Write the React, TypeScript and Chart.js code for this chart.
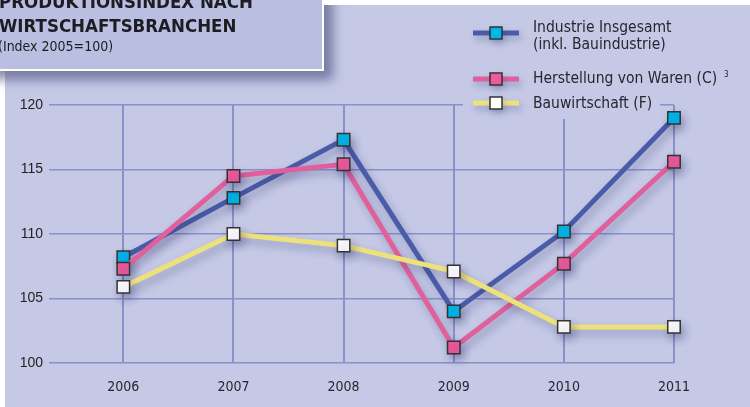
import React, { useEffect, useRef } from "react";
import { Chart, registerables } from "chart.js";

Chart.register(...registerables);

// ---- data ----
const YEARS = [2006, 2007, 2008, 2009, 2010, 2011];
const INDUSTRIE = [108.2, 112.8, 117.3, 104.0, 110.2, 119.0];
const WAREN = [107.3, 114.5, 115.4, 101.2, 107.7, 115.6];
const BAU = [105.9, 110.0, 109.1, 107.1, 102.8, 102.8];
const Y_TICKS = [100, 105, 110, 115, 120];

const TITLE_LINES = ["PRODUKTIONSINDEX NACH", "WIRTSCHAFTSBRANCHEN"];
const SUBTITLE = "(Index 2005=100)";
const LEGEND_INDUSTRIE = ["Industrie Insgesamt", "(inkl. Bauindustrie)"];
const LEGEND_WAREN = "Herstellung von Waren (C)";
const LEGEND_WAREN_NOTE = "3";
const LEGEND_BAU = "Bauwirtschaft (F)";

// ---- styles ----
const BG = "#c5c9e6";
const BOX = "#babee0";
const GRID = "#8a91c9";
const BLUE = "#4a5ca8";
const PINK = "#e0609c";
const YELLOW = "#ede27a";
const CYAN = "#00b6ea";
const MAGENTA = "#ee5a9c";
const TEXT = "#26262e";
const COND = '"DejaVu Sans Condensed", "DejaVu Sans", sans-serif';

export default function App() {
  const ref = useRef<HTMLCanvasElement>(null);

  useEffect(() => {
    const canvas = ref.current;
    if (!canvas) return;

    const decor = {
      id: "decor",
      beforeDraw(chart: any) {
        const ctx = chart.ctx;
        ctx.save();
        ctx.fillStyle = "#ffffff";
        ctx.fillRect(0, 0, chart.width, chart.height);
        ctx.fillStyle = BG;
        ctx.fillRect(5, 5, chart.width - 5, chart.height - 5);
        ctx.restore();
      },
      beforeDatasetsDraw(chart: any) {
        const ctx = chart.ctx;
        ctx.save();
        ctx.shadowColor = "rgba(40,44,100,0.33)";
        ctx.shadowBlur = 8;
        ctx.shadowOffsetX = 3;
        ctx.shadowOffsetY = 5;
      },
      afterDatasetsDraw(chart: any) {
        chart.ctx.restore();
      },
      afterDraw(chart: any) {
        const ctx = chart.ctx;
        // ---- title box ----
        ctx.save();
        ctx.shadowColor = "rgba(70,74,120,0.6)";
        ctx.shadowBlur = 10;
        ctx.shadowOffsetX = 9;
        ctx.shadowOffsetY = 9;
        ctx.fillStyle = BOX;
        ctx.fillRect(-20, -20, 344, 91);
        ctx.restore();
        ctx.save();
        ctx.fillStyle = "#ffffff";
        ctx.fillRect(324, 0, chart.width - 324, 5);
        ctx.fillStyle = BOX;
        ctx.fillRect(-20, -20, 344, 91);
        ctx.strokeStyle = "#ffffff";
        ctx.lineWidth = 2;
        ctx.strokeRect(-20, -20, 343, 90);
        ctx.fillStyle = "#1c1c22";
        ctx.textBaseline = "alphabetic";
        ctx.textAlign = "left";
        ctx.font = `bold 18.5px ${COND}`;
        ctx.fillText(TITLE_LINES[0], -1, 8);
        ctx.fillText(TITLE_LINES[1], -1, 32);
        ctx.font = `14px ${COND}`;
        ctx.fillText(SUBTITLE, -2, 51);
        ctx.restore();

        // ---- legend ----
        ctx.save();
        ctx.fillStyle = BG;
        ctx.fillRect(463, 5, 197, 114);
        const items = [
          { y: 33, line: BLUE, fill: CYAN },
          { y: 79, line: PINK, fill: MAGENTA },
          { y: 103, line: YELLOW, fill: "#ffffff" },
        ];
        items.forEach((it) => {
          ctx.save();
          ctx.shadowColor = "rgba(40,44,100,0.3)";
          ctx.shadowBlur = 7;
          ctx.shadowOffsetX = 2;
          ctx.shadowOffsetY = 4;
          ctx.strokeStyle = it.line;
          ctx.lineWidth = 5;
          ctx.beginPath();
          ctx.moveTo(473, it.y);
          ctx.lineTo(519, it.y);
          ctx.stroke();
          ctx.fillStyle = it.fill;
          ctx.fillRect(490, it.y - 6, 12, 12);
          ctx.restore();
          ctx.strokeStyle = "#333333";
          ctx.lineWidth = 1.5;
          ctx.strokeRect(490, it.y - 6, 12, 12);
        });
        ctx.fillStyle = TEXT;
        ctx.textBaseline = "alphabetic";
        ctx.textAlign = "left";
        ctx.font = `15.5px ${COND}`;
        ctx.fillText(LEGEND_INDUSTRIE[0], 533, 31.5);
        ctx.fillText(LEGEND_INDUSTRIE[1], 533, 49);
        ctx.fillText(LEGEND_WAREN, 533, 83);
        ctx.fillText(LEGEND_BAU, 533, 108);
        ctx.font = `8px ${COND}`;
        ctx.fillText(LEGEND_WAREN_NOTE, 724, 77);
        ctx.restore();
      },
    };

    const mk = (label: string, vals: number[], line: string, fill: string, order: number) => ({
      label,
      data: YEARS.map((x, i) => ({ x, y: vals[i] })),
      borderColor: line,
      backgroundColor: fill,
      borderWidth: 5,
      pointStyle: "rect",
      pointRadius: 8.8,
      pointHoverRadius: 8.8,
      pointBackgroundColor: fill,
      pointBorderColor: "#333333",
      pointBorderWidth: 1.5,
      tension: 0,
      clip: false,
      order,
    });

    const chart = new Chart(canvas, {
      type: "line",
      data: {
        datasets: [
          mk(LEGEND_BAU, BAU, YELLOW, "#ffffff", 1),
          mk(LEGEND_WAREN, WAREN, PINK, MAGENTA, 2),
          mk(LEGEND_INDUSTRIE.join(" "), INDUSTRIE, BLUE, CYAN, 3),
        ] as any,
      },
      options: {
        responsive: false,
        animation: false,
        events: [],
        layout: { padding: { left: 0, top: 105, right: 76, bottom: 0 } },
        plugins: {
          legend: { display: false },
          tooltip: { enabled: false },
          title: { display: false },
        },
        scales: {
          x: {
            type: "linear",
            min: 2005.325,
            max: 2011,
            afterBuildTicks: (scale: any) => {
              scale.ticks = YEARS.map((v) => ({ value: v }));
            },
            afterFit: (scale: any) => {
              scale.height = 44;
            },
            border: { display: false },
            grid: { color: GRID, lineWidth: 2, drawTicks: false },
            ticks: {
              padding: 16,
              color: TEXT,
              font: { family: COND, size: 14 },
              callback: (v: any) => String(v),
              maxRotation: 0,
            },
          },
          y: {
            min: 100,
            max: 120,
            afterBuildTicks: (scale: any) => {
              scale.ticks = Y_TICKS.map((v) => ({ value: v }));
            },
            afterFit: (scale: any) => {
              scale.width = 49;
            },
            border: { display: false },
            grid: { color: GRID, lineWidth: 1.5, drawTicks: false },
            ticks: {
              padding: 6,
              color: "#222222",
              font: { family: '"Liberation Sans", Arial, sans-serif', size: 14 },
              callback: (v: any) => String(v),
            },
          },
        },
      } as any,
      plugins: [decor],
    });

    return () => chart.destroy();
  }, []);

  return (
    <div style={{ position: "absolute", left: 0, top: 0, width: 750, height: 407 }}>
      <canvas ref={ref} width={750} height={407} style={{ width: 750, height: 407, display: "block" }} />
    </div>
  );
}
